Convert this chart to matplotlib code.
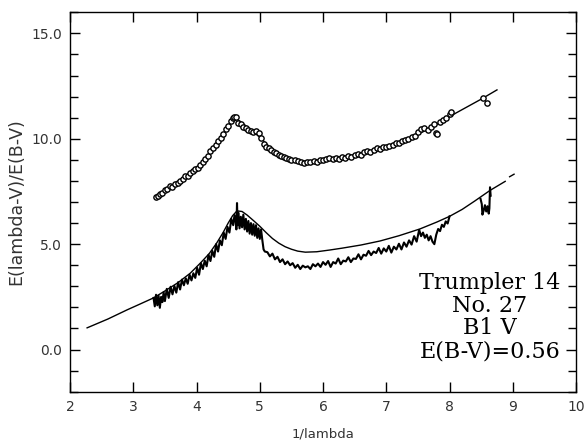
import numpy as np
import matplotlib
matplotlib.use("Agg")
import matplotlib.pyplot as plt
from matplotlib.ticker import MultipleLocator, FixedLocator

# Lower smooth curve (comparison extinction curve)
fit_lo_x = [2.27, 2.60, 2.90, 3.10, 3.32, 3.50, 3.71, 3.90, 4.06, 4.20, 4.32, 4.42,
            4.50, 4.57, 4.64, 4.72, 4.80, 4.90, 5.00, 5.10, 5.20, 5.30, 5.40, 5.50,
            5.60, 5.72, 5.90, 6.10, 6.30, 6.60, 6.90, 7.20, 7.53, 7.80, 8.00, 8.20,
            8.40, 8.64, 8.88]
fit_lo_y = [1.03, 1.45, 1.88, 2.15, 2.45, 2.78, 3.18, 3.62, 4.10, 4.55, 5.06, 5.55,
            6.00, 6.35, 6.58, 6.55, 6.38, 6.12, 5.85, 5.55, 5.27, 5.05, 4.88, 4.76,
            4.67, 4.62, 4.64, 4.72, 4.81, 4.96, 5.15, 5.40, 5.72, 6.05, 6.32, 6.65,
            7.05, 7.55, 7.98]
# little dash beyond the end
dash_x = [8.95, 9.02]
dash_y = [8.20, 8.32]

# Lower noisy spectrum (Trumpler 14 No. 27)
spec_x = [3.32, 3.34, 3.36, 3.38, 3.40, 3.42, 3.44, 3.46, 3.48, 3.50, 3.53, 3.56,
          3.59, 3.62, 3.65, 3.68, 3.71, 3.74, 3.77, 3.80, 3.83, 3.86, 3.89, 3.92,
          3.95, 3.98, 4.01, 4.04, 4.07, 4.10, 4.13, 4.16, 4.19, 4.22, 4.25, 4.28,
          4.31, 4.34, 4.37, 4.40, 4.43, 4.46, 4.49, 4.52, 4.55, 4.58, 4.60, 4.62,
          4.63, 4.64, 4.65, 4.66, 4.68, 4.70, 4.72, 4.74, 4.76, 4.78, 4.80, 4.82,
          4.84, 4.86, 4.88, 4.90, 4.92, 4.94, 4.96, 4.98, 5.00, 5.02, 5.04, 5.06,
          5.08, 5.12, 5.16, 5.20, 5.24, 5.28, 5.32, 5.36, 5.40, 5.44, 5.48, 5.52,
          5.56, 5.60, 5.64, 5.68, 5.72, 5.76, 5.80, 5.84, 5.88, 5.92, 5.96, 6.00,
          6.04, 6.08, 6.12, 6.16, 6.20, 6.24, 6.28, 6.32, 6.36, 6.40, 6.44, 6.48,
          6.52, 6.56, 6.60, 6.64, 6.68, 6.72, 6.76, 6.80, 6.84, 6.88, 6.92, 6.96,
          7.00, 7.04, 7.08, 7.12, 7.16, 7.20, 7.24, 7.28, 7.32, 7.36, 7.40, 7.44,
          7.48, 7.52, 7.55, 7.58, 7.61, 7.64, 7.67, 7.70, 7.73, 7.76, 7.79, 7.82,
          7.85, 7.88, 7.91, 7.94, 7.97, 8.00]
spec_y = [2.45, 2.05, 2.60, 2.10, 2.55, 1.98, 2.50, 2.25, 2.72, 2.30, 2.88, 2.45,
          2.98, 2.62, 3.02, 2.70, 3.20, 2.85, 3.32, 3.05, 3.38, 3.12, 3.55, 3.28,
          3.62, 3.40, 3.88, 3.55, 4.10, 3.82, 4.22, 3.95, 4.50, 4.20, 4.68, 4.40,
          5.00, 4.65, 5.18, 4.95, 5.55, 5.25, 5.82, 5.55, 6.20, 5.90, 6.38, 6.05,
          5.70, 6.95, 5.90, 6.50, 5.75, 6.30, 5.80, 6.40, 5.70, 6.20, 5.60, 6.10,
          5.50, 6.00, 5.45, 5.95, 5.40, 5.90, 5.30, 5.75, 5.25, 5.70, 5.20, 4.75,
          4.65, 4.62, 4.42, 4.55, 4.28, 4.40, 4.15, 4.28, 4.05, 4.18, 4.00, 4.10,
          3.88, 4.02, 3.82, 3.98, 3.90, 3.95, 3.82, 4.05, 3.95, 4.08, 3.92, 4.15,
          4.02, 4.20, 3.92, 4.15, 4.08, 4.32, 4.05, 4.22, 4.18, 4.38, 4.15, 4.32,
          4.30, 4.52, 4.28, 4.50, 4.45, 4.68, 4.48, 4.65, 4.58, 4.82, 4.55, 4.80,
          4.65, 4.92, 4.60, 4.88, 4.75, 5.02, 4.75, 5.08, 4.88, 5.18, 4.98, 5.38,
          5.12, 5.68, 5.38, 5.55, 5.30, 5.45, 5.18, 5.38, 5.12, 5.00, 5.45, 5.72,
          5.62, 5.92, 5.82, 6.08, 5.98, 6.32]
# short far-UV piece
spec2_x = [8.49, 8.51, 8.52, 8.54, 8.56, 8.58, 8.60, 8.62, 8.63, 8.64, 8.65]
spec2_y = [7.15, 6.90, 6.40, 6.60, 6.85, 6.55, 6.80, 6.45, 6.70, 7.70, 7.30]

# Upper binned points (offset curve) and their fit
pts_x = [3.36, 3.39, 3.42, 3.46, 3.50, 3.54, 3.58, 3.62, 3.66, 3.70, 3.74, 3.78,
         3.82, 3.86, 3.90, 3.94, 3.98, 4.02, 4.06, 4.10, 4.14, 4.18, 4.22, 4.26,
         4.30, 4.34, 4.38, 4.42, 4.46, 4.50, 4.54, 4.57, 4.60, 4.63, 4.66, 4.70,
         4.74, 4.78, 4.82, 4.86, 4.90, 4.94, 4.98, 5.02, 5.06, 5.10, 5.14, 5.18,
         5.22, 5.26, 5.30, 5.34, 5.38, 5.42, 5.46, 5.50, 5.55, 5.60, 5.65, 5.70,
         5.75, 5.80, 5.85, 5.90, 5.95, 6.00, 6.05, 6.10, 6.15, 6.20, 6.25, 6.30,
         6.35, 6.40, 6.45, 6.50, 6.55, 6.60, 6.65, 6.70, 6.75, 6.80, 6.85, 6.90,
         6.95, 7.00, 7.05, 7.10, 7.15, 7.20, 7.25, 7.30, 7.35, 7.40, 7.45, 7.50,
         7.55, 7.60, 7.66, 7.70, 7.75, 7.78, 7.80, 7.85, 7.90, 7.95, 8.00, 8.03,
         8.53, 8.59]
pts_y = [7.25, 7.30, 7.38, 7.45, 7.55, 7.62, 7.78, 7.72, 7.85, 7.92, 8.00, 8.10,
         8.25, 8.22, 8.40, 8.45, 8.55, 8.62, 8.75, 8.90, 9.05, 9.20, 9.40, 9.55,
         9.70, 9.90, 10.05, 10.25, 10.45, 10.60, 10.85, 10.98, 11.05, 11.02, 10.75, 10.68,
         10.58, 10.50, 10.42, 10.35, 10.30, 10.35, 10.28, 10.05, 9.75, 9.62, 9.55, 9.45,
         9.38, 9.32, 9.25, 9.18, 9.12, 9.08, 9.05, 9.00, 8.98, 8.95, 8.90, 8.87,
         8.92, 8.88, 8.95, 8.92, 9.00, 8.98, 9.05, 9.08, 9.02, 9.10, 9.05, 9.12,
         9.10, 9.18, 9.15, 9.22, 9.28, 9.25, 9.35, 9.40, 9.38, 9.48, 9.55, 9.52,
         9.62, 9.60, 9.68, 9.72, 9.78, 9.80, 9.88, 9.92, 10.00, 10.08, 10.15, 10.30,
         10.45, 10.50, 10.42, 10.55, 10.70, 10.27, 10.22, 10.80, 10.88, 11.00, 11.18, 11.25,
         11.93, 11.69]
fit_hi_x = [3.36, 3.60, 3.80, 4.00, 4.20, 4.40, 4.55, 4.62, 4.70, 4.85, 5.00, 5.15,
            5.30, 5.50, 5.70, 5.90, 6.10, 6.30, 6.50, 6.70, 6.90, 7.10, 7.30, 7.50,
            7.70, 7.90, 8.10, 8.30, 8.50, 8.75]
fit_hi_y = [7.22, 7.70, 8.12, 8.58, 9.28, 10.10, 10.78, 10.98, 10.80, 10.45, 10.08, 9.62,
            9.28, 9.03, 8.92, 8.93, 9.02, 9.12, 9.25, 9.40, 9.56, 9.74, 9.95, 10.22,
            10.52, 10.85, 11.22, 11.55, 11.88, 12.32]

label_lines = ["Trumpler 14", "No. 27", "B1 V", "E(B-V)=0.56"]
label_y = [3.15, 2.08, 1.00, -0.08]

fig = plt.figure(figsize=(5.86, 4.42), dpi=100)
ax = fig.add_axes([0.1195, 0.1138, 0.8635, 0.8583])

ax.plot(fit_lo_x, fit_lo_y, color="black", lw=1.0)
ax.plot(dash_x, dash_y, color="black", lw=1.0)
ax.plot(spec_x, spec_y, color="black", lw=1.5)
ax.plot(spec2_x, spec2_y, color="black", lw=1.5)
ax.plot(fit_hi_x, fit_hi_y, color="black", lw=1.0)
ax.plot(pts_x, pts_y, ls="none", marker="o", ms=3.8, mfc="white",
        mec="black", mew=1.0)

for txt, yy in zip(label_lines, label_y):
    ax.text(8.64, yy, txt, ha="center", va="center", fontsize=16,
            family="DejaVu Serif", color="black")

ax.set_xlim(2, 10)
ax.set_ylim(-2, 16)
ax.xaxis.set_major_locator(MultipleLocator(1))
ax.yaxis.set_major_locator(FixedLocator([0, 5, 10, 15]))
ax.yaxis.set_minor_locator(MultipleLocator(1))
ax.set_yticklabels(["0.0", "5.0", "10.0", "15.0"])
ax.tick_params(which="both", direction="in", top=True, right=True,
               labelsize=10, labelcolor="#333333", width=1.0, pad=6)
ax.tick_params(which="major", length=7)
ax.tick_params(which="minor", length=6)
for s in ax.spines.values():
    s.set_linewidth(1.0)

ax.set_xlabel("1/lambda", fontsize=9.5, color="#333333", labelpad=10)
ax.set_ylabel("E(lambda-V)/E(B-V)", fontsize=12.5, color="#333333", labelpad=4)

fig.savefig("out.png", dpi=100)
